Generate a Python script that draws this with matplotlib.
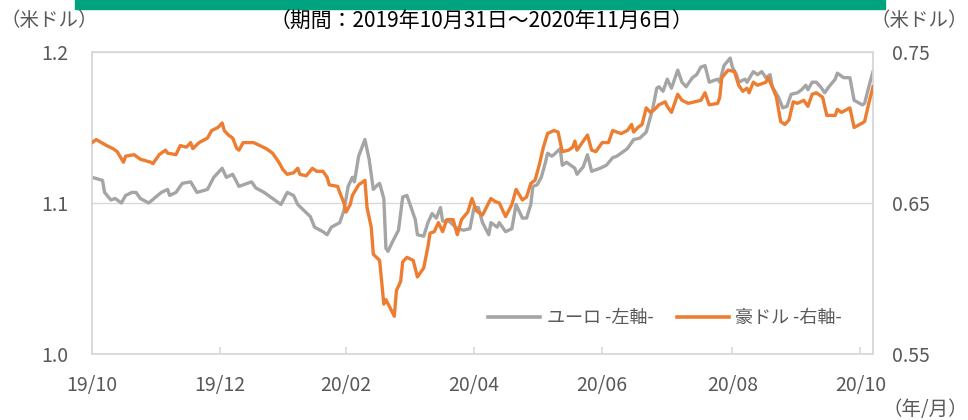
import matplotlib
matplotlib.use("Agg")
import matplotlib.pyplot as plt
import numpy as np
import pandas as pd
from matplotlib.lines import Line2D
from matplotlib.patches import Rectangle

plt.rcParams['font.family'] = ['Noto Sans CJK JP', 'DejaVu Sans']

# ---------------- data ----------------
start_date = "2019-10-31"
end_date = "2020-11-06"

eur_day_offset = [0, 5, 6, 9, 11, 14, 16, 19, 21, 23, 27, 33, 36, 37, 40, 43, 47, 50, 55, 58,
                  62, 64, 67, 70, 74, 76, 78, 82, 86, 90, 93, 96, 98, 104, 106, 110, 112, 114, 118, 120,
                  122, 124, 125, 127, 130, 132, 134, 136, 137, 139, 140, 141, 143, 146, 148, 150, 151, 154, 155, 158,
                  160, 162, 164, 166, 167, 170, 174, 177, 180, 182, 184, 186, 189, 190, 193, 194, 197, 200, 202, 205,
                  207, 209, 210, 212, 214, 216, 217, 219, 220, 223, 224, 226, 228, 230, 231, 234, 236, 238, 240, 242,
                  245, 248, 250, 253, 255, 258, 261, 264, 267, 269, 270, 272, 274, 276, 279, 281, 283, 286, 288, 290,
                  292, 294, 298, 299, 301, 304, 305, 307, 308, 311, 312, 315, 317, 319, 321, 323, 324, 327, 329, 331,
                  333, 336, 338, 340, 341, 343, 345, 347, 349, 351, 354, 355, 358, 361, 363, 367, 368, 370, 372]
eur_usd = [1.117, 1.115, 1.107, 1.102, 1.103, 1.100, 1.105, 1.107, 1.107, 1.103, 1.100, 1.107, 1.109, 1.105, 1.107, 1.113, 1.114, 1.107, 1.109, 1.117,
           1.123, 1.117, 1.119, 1.111, 1.113, 1.114, 1.110, 1.107, 1.103, 1.099, 1.107, 1.105, 1.099, 1.091, 1.084, 1.081, 1.079, 1.084, 1.087, 1.095,
           1.111, 1.117, 1.114, 1.131, 1.142, 1.129, 1.109, 1.112, 1.113, 1.103, 1.070, 1.068, 1.074, 1.082, 1.104, 1.105, 1.101, 1.089, 1.079, 1.078,
           1.087, 1.093, 1.090, 1.097, 1.088, 1.088, 1.083, 1.082, 1.083, 1.097, 1.097, 1.087, 1.079, 1.087, 1.084, 1.087, 1.081, 1.083, 1.099, 1.090,
           1.090, 1.099, 1.111, 1.112, 1.117, 1.127, 1.133, 1.131, 1.132, 1.136, 1.125, 1.127, 1.125, 1.123, 1.119, 1.124, 1.132, 1.121, 1.122, 1.123,
           1.125, 1.130, 1.131, 1.134, 1.136, 1.142, 1.143, 1.147, 1.162, 1.176, 1.177, 1.174, 1.182, 1.176, 1.188, 1.180, 1.177, 1.183, 1.185, 1.190,
           1.191, 1.180, 1.182, 1.180, 1.191, 1.196, 1.190, 1.185, 1.180, 1.182, 1.180, 1.187, 1.185, 1.187, 1.183, 1.185, 1.177, 1.170, 1.163, 1.164,
           1.172, 1.173, 1.175, 1.178, 1.175, 1.180, 1.180, 1.177, 1.173, 1.177, 1.182, 1.186, 1.183, 1.183, 1.168, 1.165, 1.166, 1.177, 1.187]

aud_day_offset = [0, 2, 7, 10, 12, 15, 16, 20, 23, 28, 29, 32, 35, 36, 40, 42, 45, 47, 48, 51,
                  55, 57, 60, 62, 63, 65, 67, 69, 70, 72, 77, 80, 83, 86, 89, 91, 93, 96, 98, 99,
                  102, 105, 107, 110, 112, 113, 117, 118, 120, 121, 123, 124, 127, 130, 131, 133, 134, 137, 139, 140,
                  144, 145, 147, 148, 150, 153, 155, 158, 160, 161, 163, 165, 167, 169, 172, 174, 176, 179, 181, 183,
                  186, 190, 192, 194, 197, 200, 202, 205, 207, 209, 211, 213, 215, 217, 220, 222, 224, 227, 229, 230,
                  231, 236, 238, 240, 243, 246, 248, 252, 255, 257, 258, 260, 262, 264, 266, 268, 270, 273, 274, 276,
                  279, 281, 284, 287, 290, 292, 294, 298, 299, 300, 303, 306, 308, 310, 312, 313, 315, 317, 321, 322,
                  324, 326, 328, 330, 332, 334, 336, 339, 341, 343, 345, 348, 350, 354, 355, 357, 361, 363, 367, 368,
                  370, 372]
aud_usd = [0.690, 0.692, 0.688, 0.686, 0.684, 0.677, 0.681, 0.682, 0.679, 0.677, 0.676, 0.682, 0.685, 0.683, 0.682, 0.688, 0.687, 0.690, 0.686, 0.690,
           0.693, 0.698, 0.700, 0.703, 0.698, 0.695, 0.693, 0.686, 0.685, 0.690, 0.690, 0.688, 0.686, 0.683, 0.677, 0.672, 0.669, 0.670, 0.673, 0.669,
           0.668, 0.673, 0.671, 0.671, 0.667, 0.662, 0.661, 0.657, 0.650, 0.644, 0.649, 0.655, 0.662, 0.665, 0.647, 0.634, 0.616, 0.612, 0.583, 0.586,
           0.575, 0.592, 0.598, 0.611, 0.614, 0.612, 0.601, 0.607, 0.621, 0.630, 0.631, 0.637, 0.631, 0.639, 0.639, 0.629, 0.639, 0.644, 0.653, 0.645,
           0.642, 0.653, 0.651, 0.650, 0.641, 0.649, 0.659, 0.652, 0.654, 0.663, 0.665, 0.675, 0.687, 0.696, 0.698, 0.697, 0.684, 0.685, 0.687, 0.691,
           0.685, 0.695, 0.685, 0.684, 0.690, 0.690, 0.698, 0.696, 0.698, 0.702, 0.697, 0.700, 0.702, 0.713, 0.710, 0.712, 0.715, 0.717, 0.714, 0.710,
           0.722, 0.718, 0.716, 0.717, 0.718, 0.723, 0.715, 0.716, 0.720, 0.733, 0.738, 0.737, 0.728, 0.724, 0.726, 0.723, 0.730, 0.728, 0.730, 0.733,
           0.727, 0.720, 0.704, 0.702, 0.705, 0.717, 0.716, 0.718, 0.714, 0.722, 0.723, 0.720, 0.708, 0.708, 0.712, 0.710, 0.713, 0.700, 0.703, 0.704,
           0.716, 0.727]

tick_dates = ["2019-10-31", "2019-12-31", "2020-02-29", "2020-04-30", "2020-06-30", "2020-08-31", "2020-10-31"]
tick_labels = ["19/10", "19/12", "20/02", "20/04", "20/06", "20/08", "20/10"]

left_ticks = [1.0, 1.1, 1.2]
left_tick_labels = ["1.0", "1.1", "1.2"]
right_ticks = [0.55, 0.65, 0.75]
right_tick_labels = ["0.55", "0.65", "0.75"]

series_names = ["ユーロ -左軸-", "豪ドル -右軸-"]
title_text = "（期間：2019年10月31日～2020年11月6日）"
unit_text = "（米ドル）"
xunit_text = "（年/月）"

# ---------------- styling ----------------
GRAY = "#A5A5A5"
ORANGE = "#ED7D31"
FRAME = "#D9D9D9"
TXT = "#595959"
GREEN = "#00A37F"

start = pd.Timestamp(start_date)
eur_dates = start + pd.to_timedelta(eur_day_offset, unit="D")
aud_dates = start + pd.to_timedelta(aud_day_offset, unit="D")

W, H = 968, 420
fig = plt.figure(figsize=(W / 100, H / 100), dpi=100)
ax = fig.add_axes([92 / W, 66 / H, 781 / W, 302 / H])
ax2 = ax.twinx()

ax.plot(eur_dates, eur_usd, color=GRAY, lw=2.4, solid_joinstyle="round", zorder=3)
ax2.plot(aud_dates, aud_usd, color=ORANGE, lw=2.4, solid_joinstyle="round", zorder=3)

ax.set_xlim(start, pd.Timestamp(end_date))
ax.set_ylim(1.0, 1.2)
ax2.set_ylim(0.55, 0.75)

ax.set_yticks(left_ticks)
ax.set_yticklabels(left_tick_labels)
ax2.set_yticks(right_ticks)
ax2.set_yticklabels(right_tick_labels)
ax.set_xticks(pd.to_datetime(tick_dates))
ax.set_xticklabels(tick_labels)

ax.grid(axis="y", color=FRAME, lw=1)
ax.set_axisbelow(True)
for a in (ax, ax2):
    for s in a.spines.values():
        s.set_color(FRAME)
        s.set_linewidth(1.2)

ax.tick_params(axis="y", length=0, pad=17, labelsize=14, labelcolor=TXT)
ax2.tick_params(axis="y", length=0, pad=14, labelsize=14, labelcolor=TXT)
ax.tick_params(axis="x", direction="in", length=5, color=FRAME, width=1.2,
               pad=15, labelsize=14, labelcolor=TXT)

# green band at top
fig.patches.append(Rectangle((75 / W, 1 - 9 / H), 810 / W, 9 / H, transform=fig.transFigure,
                             color=GREEN, zorder=0))

fig.text(481 / W, 1 - 22 / H, title_text, ha="center", va="center", fontsize=15, color="#000000")
fig.text(0 / W, 1 - 21 / H, unit_text, ha="left", va="center", fontsize=14, color=TXT)
fig.text(968 / W, 1 - 21 / H, unit_text, ha="right", va="center", fontsize=14, color=TXT)
fig.text(968 / W, 1 - 409 / H, xunit_text, ha="right", va="center", fontsize=14, color=TXT)

handles = [Line2D([0], [0], color=GRAY, lw=2.6), Line2D([0], [0], color=ORANGE, lw=2.6)]
leg = ax.legend(handles, series_names, ncol=2, frameon=False, loc="center",
                bbox_to_anchor=((665 - 92) / 781, (354 - 318) / 302), fontsize=13,
                handlelength=2.9, handletextpad=0.35, columnspacing=1.3)
for t in leg.get_texts():
    t.set_color(TXT)

fig.savefig("out.png", dpi=100)
